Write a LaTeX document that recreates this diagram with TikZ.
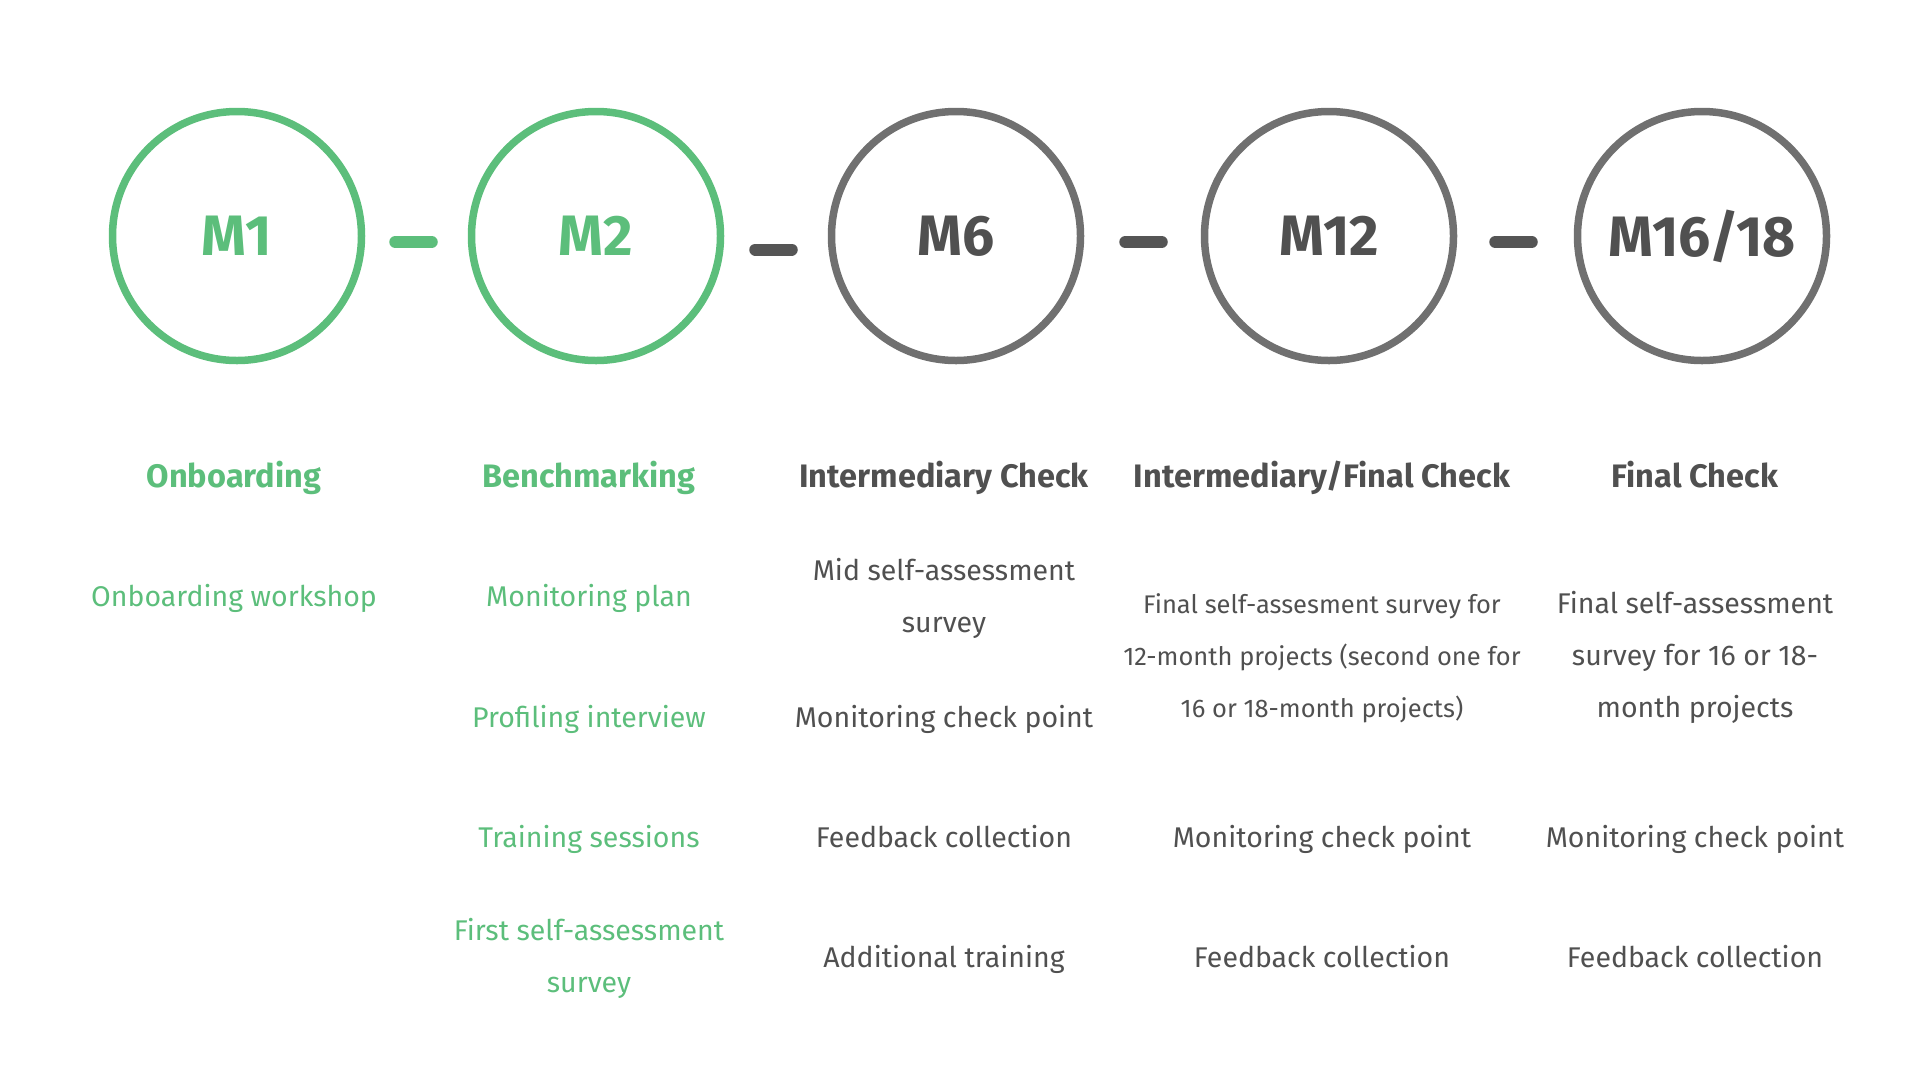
\documentclass[tikz,border=0pt]{standalone}
\usepackage{fontspec}
\setmainfont{Fira Sans}
\usepackage{tikz}

\definecolor{msgreen}{HTML}{5CBE7B}
\definecolor{msring}{HTML}{707070}
\definecolor{msdark}{HTML}{505050}
\definecolor{msbar}{HTML}{555555}

\begin{document}
\begin{tikzpicture}[x=1pt,y=-1pt,
  ring/.style={circle,draw,line width=7.5pt,minimum size=249pt,inner sep=0pt,
    font=\fontsize{57}{57}\selectfont\bfseries},
  bar/.style={line width=12pt,line cap=round},
  title/.style={anchor=base,font=\fontsize{32.5}{36}\selectfont\bfseries},
  item/.style={align=center,font=\fontsize{28.5}{52}\selectfont},
  oneline/.style={item,anchor=base}]

\useasboundingbox (0,0) rectangle (1920,1080);

\node[ring,msgreen] (m1) at (237,236) {M1};
\node[ring,msgreen] (m2) at (596,236) {M2};
\node[ring,msring,text=msdark] (m6) at (956,236) {M6};
\node[ring,msring,text=msdark] (m12) at (1329,236) {M12};
\node[ring,msring,text=msdark] (m16) at (1702,236) {M16/18};

\draw[bar,msgreen,shorten <=30pt,shorten >=36pt] ([yshift=-6pt]m1.east) -- ([yshift=-6pt]m2.west);
\draw[bar,msbar,shorten <=31pt,shorten >=36pt] ([yshift=-13.5pt]m2.east) -- ([yshift=-13.5pt]m6.west);
\draw[bar,msbar,shorten <=41pt,shorten >=39pt] ([yshift=-6pt]m6.east) -- ([yshift=-6pt]m12.west);
\draw[bar,msbar,shorten <=38pt,shorten >=42pt] ([yshift=-6pt]m12.east) -- ([yshift=-6pt]m16.west);

% phase titles
\node[title,msgreen] (t1) at (234,487) {Onboarding};
\node[title,msgreen] (t2) at (589,487) {Benchmarking};
\node[title,msdark] (t3) at (944,487) {Intermediary Check};
\node[title,msdark] (t4) at (1322,487) {Intermediary/Final Check};
\node[title,msdark] (t5) at (1695,487) {Final Check};

% M1
\node[oneline,msgreen] (a1) at (234,606) {Onboarding workshop};

% M2
\node[oneline,msgreen] (b1) at (589,606) {Monitoring plan};
\node[oneline,msgreen] (b2) at (589,727) {Profiling interview};
\node[oneline,msgreen] (b3) at (589,847) {Training sessions};
\node[item,msgreen] (b4) at (589,958) {First self-assessment\\survey};

% M6
\node[item,msdark] (c1) at (944,598) {Mid self-assessment\\survey};
\node[oneline,msdark] (c2) at (944,727) {Monitoring check point};
\node[oneline,msdark] (c3) at (944,847) {Feedback collection};
\node[oneline,msdark] (c4) at (944,967) {Additional training};

% M12
\node[item,msdark,font=\fontsize{25.5}{52}\selectfont] (d1) at (1322,658) {Final self-assesment survey for\\12-month projects (second one for\\16 or 18-month projects)};
\node[oneline,msdark] (d2) at (1322,847) {Monitoring check point};
\node[oneline,msdark] (d3) at (1322,967) {Feedback collection};

% M16/18
\node[item,msdark] (e1) at (1695,657) {Final self-assessment\\survey for 16 or 18-\\month projects};
\node[oneline,msdark] (e2) at (1695,847) {Monitoring check point};
\node[oneline,msdark] (e3) at (1695,967) {Feedback collection};
\end{tikzpicture}
\end{document}
